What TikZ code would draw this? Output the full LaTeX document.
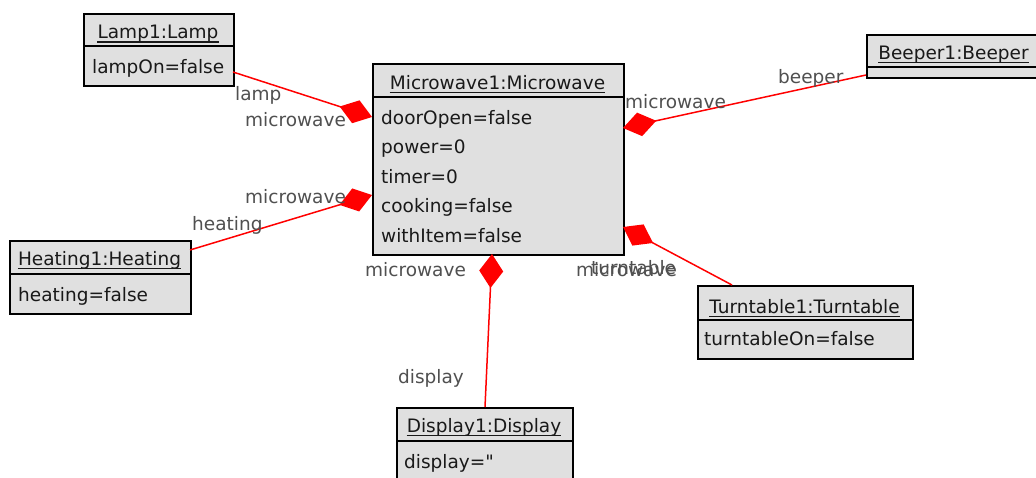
\documentclass[tikz,border=0pt]{standalone}
\usepackage{fontspec}
\newfontfamily\uml{DejaVu Sans}
\usetikzlibrary{arrows.meta}
\definecolor{boxfill}{RGB}{224,224,224}
\definecolor{boxtext}{RGB}{25,25,25}
\definecolor{lbltext}{RGB}{80,80,80}
\definecolor{assocred}{RGB}{255,0,0}
\tikzset{
  box/.style={draw=black, line width=1.5pt, fill=boxfill, rectangle, inner sep=0pt, anchor=north west},
  divider/.style={draw=black, line width=2pt},
  title/.style={anchor=base, inner sep=0pt, text=boxtext, font=\uml\fontsize{18.5}{22}\selectfont},
  attr/.style={anchor=base west, inner sep=0pt, text=boxtext, font=\uml\fontsize{18.5}{22}\selectfont},
  lbl/.style={anchor=base west, inner sep=0pt, text=lbltext, font=\uml\fontsize{18.5}{22}\selectfont},
  uline/.style={draw=boxtext, line width=1.2pt},
  assoc/.style={draw=assocred, line width=1.5pt, -{Diamond[length=34pt,width=24pt,fill=assocred,color=assocred]}},
}
\newcommand{\ulinenode}[1]{\draw[uline] ([yshift=-3.5pt]#1.base west) -- ([yshift=-3.5pt]#1.base east);}
\begin{document}
\begin{tikzpicture}[x=1pt,y=-1pt]
\useasboundingbox (0,0) rectangle (1036,477);
\begin{scope}
\clip (0,0) rectangle (1036,477);
\fill[white] (0,0) rectangle (1036,477);

% boxes
\node[box, minimum width=150pt, minimum height=72pt] (lamp) at (83,13) {};
\draw[divider] (83,46) -- (233,46);
\node[title] (lampT) at (158,38.5) {Lamp1:Lamp}; \ulinenode{lampT}
\node[attr] (lampA1) at (92,73.5) {lampOn=false};

\node[box, minimum width=251pt, minimum height=191pt] (mw) at (372,63) {};
\draw[divider] (372,97) -- (623,97);
\node[title] (mwT) at (497.5,89) {Microwave1:Microwave}; \ulinenode{mwT}
\node[attr] (mwA1) at (381,124) {doorOpen=false};
\node[attr] (mwA2) at (381,153.5) {power=0};
\node[attr] (mwA3) at (381,183) {timer=0};
\node[attr] (mwA4) at (381,212.5) {cooking=false};
\node[attr] (mwA5) at (381,242) {withItem=false};

\node[box, minimum width=175pt, minimum height=43pt] (beep) at (866,34) {};
\draw[divider] (866,67) -- (1041,67);
\node[title] (beepT) at (953.5,59) {Beeper1:Beeper}; \ulinenode{beepT}

\node[box, minimum width=181pt, minimum height=73pt] (heat) at (9,240) {};
\draw[divider] (9,274) -- (190,274);
\node[title] (heatT) at (99.5,265) {Heating1:Heating}; \ulinenode{heatT}
\node[attr] (heatA1) at (18,301.5) {heating=false};

\node[box, minimum width=215pt, minimum height=73pt] (turn) at (697,285) {};
\draw[divider] (697,320) -- (912,320);
\node[title] (turnT) at (804.5,313) {Turntable1:Turntable}; \ulinenode{turnT}
\node[attr] (turnA1) at (704,345) {turntableOn=false};

\node[box, minimum width=176pt, minimum height=83pt] (disp) at (396,407) {};
\draw[divider] (396,441) -- (572,441);
\node[title] (dispT) at (484,432) {Display1:Display}; \ulinenode{dispT}
\node[attr] (dispA1) at (404,468) {display="};

% connector end points
\coordinate (lampP) at (233,72);
\coordinate (mwL1) at (372,117);
\coordinate (heatP) at (190,250);
\coordinate (mwL2) at (372,195);
\coordinate (beepP) at (866,75);
\coordinate (mwR1) at (623,128);
\coordinate (turnP) at (732,285);
\coordinate (mwR2) at (623,227);
\coordinate (dispP) at (485,407);
\coordinate (mwB) at (492,254);

\draw[assoc] (lampP) -- (mwL1);
\draw[assoc] (heatP) -- (mwL2);
\draw[assoc] (beepP) -- (mwR1);
\draw[assoc] (turnP) -- (mwR2);
\draw[assoc] (dispP) -- (mwB);

% role labels
\node[lbl] (l1) at (235,100) {lamp};
\node[lbl] (l2) at (245,126.5) {microwave};
\node[lbl] (l3) at (245,203.5) {microwave};
\node[lbl] (l4) at (192,230) {heating};
\node[lbl] (l5) at (778,83) {beeper};
\node[lbl] (l6) at (625,108.5) {microwave};
\node[lbl] (l7) at (365,276) {microwave};
\node[lbl] (l8) at (576,276) {microwave};
\node[lbl] (l9) at (591,274) {turntable};
\node[lbl] (l10) at (398,383.5) {display};
\end{scope}
\end{tikzpicture}
\end{document}
